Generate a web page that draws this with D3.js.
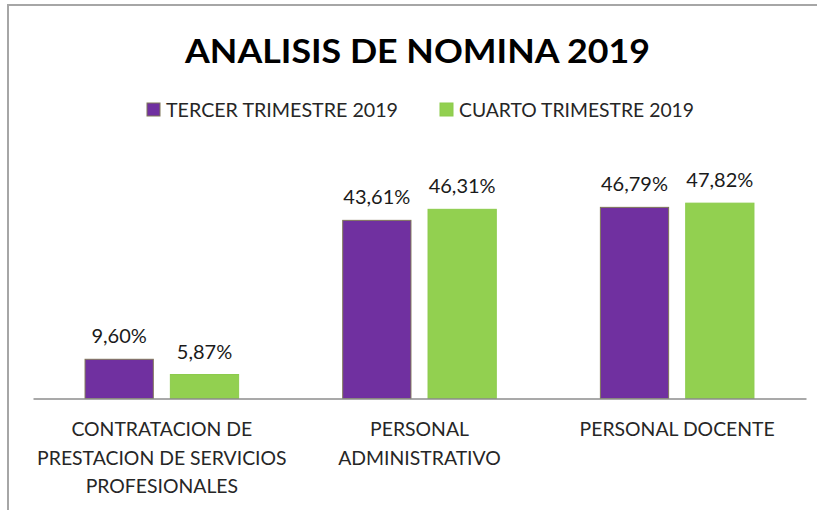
<!DOCTYPE html>
<html>
<head>
<meta charset="utf-8">
<script src="https://cdn.jsdelivr.net/npm/d3@7"></script>
<style>
  html, body { margin: 0; padding: 0; background: #fff; }
  svg { display: block; }
  text { font-family: Lato, "Open Sans", sans-serif; }
</style>
</head>
<body>
<script>
const title = "ANALISIS DE NOMINA 2019";
const categories = [
  ["CONTRATACION DE", "PRESTACION DE SERVICIOS", "PROFESIONALES"],
  ["PERSONAL", "ADMINISTRATIVO"],
  ["PERSONAL DOCENTE"]
];
const seriesNames = ["TERCER TRIMESTRE 2019", "CUARTO TRIMESTRE 2019"];
const tercer = [9.60, 43.61, 46.79];
const cuarto = [5.87, 46.31, 47.82];
const colors = ["#7030A0", "#92D050"];
const strokes = ["#7f7658", "#8ccb4c"];

const W = 817, H = 510;
const svg = d3.select("body").append("svg").attr("width", W).attr("height", H);

// frame lines (top and left)
svg.append("line").attr("x1", 7).attr("x2", W).attr("y1", 5).attr("y2", 5)
  .attr("stroke", "#a6a6a6").attr("stroke-width", 2);
svg.append("line").attr("x1", 8).attr("x2", 8).attr("y1", 4).attr("y2", H)
  .attr("stroke", "#a6a6a6").attr("stroke-width", 2);

// title
svg.append("text").attr("x", 417.5).attr("y", 63).attr("text-anchor", "middle")
  .attr("font-size", 32).attr("font-weight", "bold").attr("fill", "#000")
  .attr("textLength", 465).attr("lengthAdjust", "spacingAndGlyphs")
  .text(title);

// legend
const legendPos = [{sq: 147, tx: 166, len: 232}, {sq: 440, tx: 459, len: 235}];
seriesNames.forEach((name, i) => {
  svg.append("rect").attr("x", legendPos[i].sq).attr("y", 103).attr("width", 13).attr("height", 13)
    .attr("fill", colors[i]).attr("stroke", strokes[i]).attr("stroke-width", 1);
  svg.append("text").attr("x", legendPos[i].tx).attr("y", 117).attr("font-size", 20)
    .attr("fill", "#262626").attr("textLength", legendPos[i].len).attr("lengthAdjust", "spacingAndGlyphs")
    .text(name);
});

// scales
const idx = categories.map((d, i) => i);
const x0 = d3.scaleBand().domain(idx).range([33, 806]).paddingInner(0).paddingOuter(0);
const x1 = d3.scaleBand().domain([0, 1]).range([0, x0.bandwidth()]).paddingInner(0.2).paddingOuter(0.61);
const y = d3.scaleLinear().domain([0, 60]).range([398.5, 153.4]);

const data = idx.map(i => [tercer[i], cuarto[i]]);
const fmt = v => v.toFixed(2).replace(".", ",") + "%";

const groups = svg.append("g").selectAll("g").data(data).join("g")
  .attr("transform", (d, i) => `translate(${x0(i)},0)`);

groups.selectAll("rect").data(d => d.map((v, s) => ({v, s}))).join("rect")
  .attr("x", d => x1(d.s))
  .attr("width", x1.bandwidth())
  .attr("y", d => y(d.v))
  .attr("height", d => y(0) - y(d.v))
  .attr("fill", d => colors[d.s])
  .attr("stroke", d => strokes[d.s])
  .attr("stroke-width", 1);

groups.selectAll("text.val").data(d => d.map((v, s) => ({v, s}))).join("text")
  .attr("class", "val")
  .attr("x", d => x1(d.s) + x1.bandwidth() / 2)
  .attr("y", d => y(d.v) - 16)
  .attr("text-anchor", "middle")
  .attr("font-size", 20)
  .attr("fill", "#1a1a1a")
  .text(d => fmt(d.v));

// axis
const axis = svg.append("g").attr("transform", `translate(0,${y(0)})`)
  .call(d3.axisBottom(x0).tickSize(0).tickSizeOuter(0).tickFormat(""));
axis.select(".domain").attr("stroke", "#8c8c8c").attr("stroke-width", 1.5);
axis.selectAll(".tick text").remove();
axis.selectAll(".tick").each(function(i) {
  const t = d3.select(this).append("text")
    .attr("text-anchor", "middle").attr("font-size", 19.4).attr("fill", "#262626");
  categories[i].forEach((line, k) => {
    t.append("tspan").attr("x", 0).attr("y", 37.5 + k * 28.5).text(line);
  });
});
</script>
</body>
</html>
